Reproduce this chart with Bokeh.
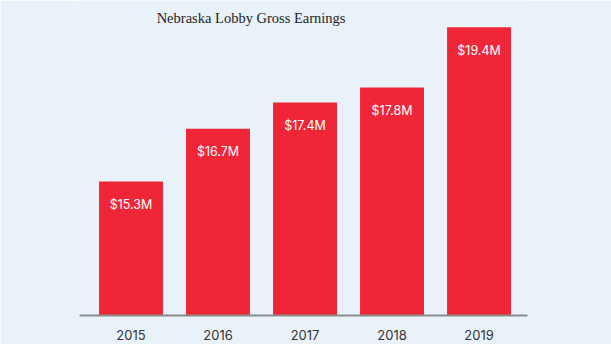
from bokeh.plotting import figure
from bokeh.models import Range1d, ColumnDataSource, LabelSet, Label, FixedTicker
from bokeh.core.properties import value
from bokeh.embed import file_html
from bokeh.resources import INLINE

years = ["2015", "2016", "2017", "2018", "2019"]
earnings = [15.3, 16.7, 17.4, 17.8, 19.4]
labels = ["$15.3M", "$16.7M", "$17.4M", "$17.8M", "$19.4M"]
title_text = "Nebraska Lobby Gross Earnings"

BG = "#eaf2f9"
RED = "#ee2638"

xs = list(range(len(years)))
y0 = 11.744
src = ColumnDataSource(dict(x=xs, top=earnings, lab=labels, bottom=[y0] * len(xs)))

p = figure(width=611, height=344, output_backend="svg", toolbar_location=None,
           x_range=Range1d(-0.592, len(years) - 1 + 0.557),
           y_range=Range1d(y0, 20.108),
           min_border_left=79, min_border_right=84, min_border_top=0, min_border_bottom=29)
p.background_fill_color = BG
p.border_fill_color = BG
p.outline_line_color = None
p.grid.visible = False
p.yaxis.visible = False

p.vbar(x="x", top="top", bottom="bottom", width=0.735, source=src, fill_color=RED, line_color=None)

p.add_layout(LabelSet(x="x", y="top", text="lab", source=src, y_offset=-23,
                      text_align="center", text_baseline="middle",
                      text_color="white", text_font=value("Inter"), text_font_size="12.5px"))

ax = p.xaxis[0]
ax.ticker = FixedTicker(ticks=xs)
ax.major_label_overrides = {i: y for i, y in enumerate(years)}
ax.major_tick_line_color = None
ax.minor_tick_line_color = None
ax.axis_line_color = "#8a8a8a"
ax.axis_line_width = 2
ax.major_label_standoff = 8
ax.major_label_text_font = "Inter"
ax.major_label_text_font_size = "13px"
ax.major_label_text_color = "#333333"

p.add_layout(Label(x=1.38, y=y0 + (315 - 18) / 37.66, text=title_text,
                   text_align="center", text_baseline="middle",
                   text_font="Liberation Serif", text_font_size="14.5px", text_color="#222222"))

open("out.html", "w").write(file_html(p, INLINE))
